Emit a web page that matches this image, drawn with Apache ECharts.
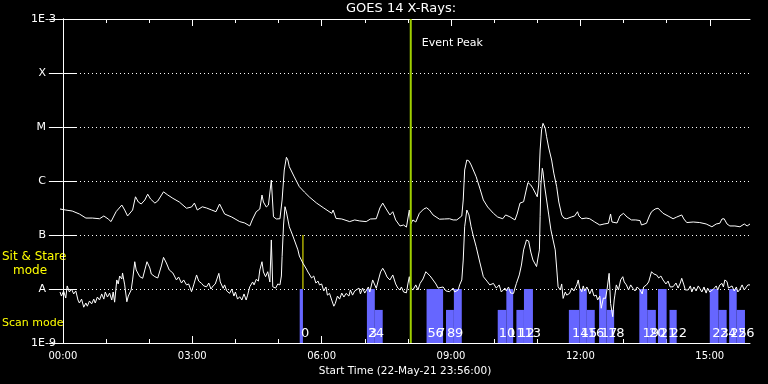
<!DOCTYPE html>
<html><head><meta charset="utf-8">
<script src="https://cdn.jsdelivr.net/npm/echarts@6/dist/echarts.min.js"></script>
<style>html,body{margin:0;padding:0;background:#000}#c{width:768px;height:384px}</style>
</head><body><div id="c"></div>
<script>
// time in minutes after 00:00 (axis starts 23:56)
const xMin = -4, xMax = 956;
const majorTicks = [0, 180, 360, 540, 720, 900];
const minorTicks = [60, 120, 240, 300, 420, 480, 600, 660, 780, 840];
const classNames = {'-3': '1E-3', '-4': 'X', '-5': 'M', '-6': 'C', '-7': 'B', '-8': 'A', '-9': '1E-9'};
const eventPeak = 484;
const stareMarker = [334, 1e-8, 1e-7];

// 1-8 A channel
const longXray = [
[-4,3.03e-7],[4,2.9e-7],[13,2.78e-7],[23,2.45e-7],[32,2.06e-7],[41,2.06e-7],[51,2.0e-7],[57,2.25e-7],[63,1.98e-7],[67,1.77e-7],
[74,2.7e-7],[82,3.59e-7],[86,2.9e-7],[90,2.25e-7],[97,2.9e-7],[101,5.1e-7],[105,4.08e-7],[109,3.75e-7],[114,4.45e-7],[118,5.7e-7],
[122,4.64e-7],[128,3.9e-7],[132,4.26e-7],[140,6.3e-7],[146,5.5e-7],[153,4.78e-7],[162,4.08e-7],[172,3.13e-7],[179,3.3e-7],[183,3.9e-7],
[187,2.9e-7],[194,3.33e-7],[200,3.16e-7],[207,2.9e-7],[213,2.7e-7],[218,3.75e-7],[225,2.45e-7],[235,2.15e-7],[246,1.77e-7],[253,1.67e-7],
[260,1.47e-7],[264,1.98e-7],[269,2.7e-7],[274,3.03e-7],[277,5.5e-7],[279,4.08e-7],[283,3.3e-7],[286,3.59e-7],[290,1.04e-6],[293,2.17e-7],
[297,1.98e-7],[302,2.0e-7],[305,4.45e-7],[308,1.6e-6],[311,2.75e-6],[313,2.45e-6],[315,1.84e-6],[322,1.19e-6],[329,7.84e-7],[336,6.25e-7],
[343,5.05e-7],[353,3.9e-7],[363,3.16e-7],[374,2.52e-7],[376,2.9e-7],[380,2.03e-7],[388,1.98e-7],[399,1.77e-7],[406,1.9e-7],[413,1.82e-7],
[422,1.77e-7],[428,1.98e-7],[436,2.0e-7],[441,3.16e-7],[445,3.9e-7],[449,3.16e-7],[455,2.35e-7],[459,2.7e-7],[463,1.9e-7],[469,1.47e-7],
[474,1.53e-7],[478,1.4e-7],[482,2.9e-7],[484,1.6e-7],[487,1.9e-7],[491,1.74e-7],[496,2.52e-7],[502,3.03e-7],[506,3.2e-7],[510,2.9e-7],
[515,2.35e-7],[524,1.96e-7],[531,1.98e-7],[538,2.0e-7],[543,1.9e-7],[548,1.9e-7],[555,2.25e-7],[557,4.45e-7],[559,1.6e-6],[562,2.45e-6],
[565,2.35e-6],[568,1.98e-6],[575,1.2e-6],[580,7.4e-7],[585,4.45e-7],[591,3.3e-7],[599,2.52e-7],[605,2.15e-7],[612,2.0e-7],[616,2.35e-7],
[622,2.17e-7],[629,1.9e-7],[632,2.45e-7],[636,3.9e-7],[641,4.13e-7],[644,6.25e-7],[647,9.35e-7],[651,8.43e-7],[654,7.3e-7],[660,5.1e-7],
[662,8.43e-7],[664,3.75e-6],[666,8.8e-6],[668,1.17e-5],[671,9.6e-6],[673,6.6e-6],[676,4.08e-6],[680,2.45e-6],[683,1.4e-6],[687,7.84e-7],
[690,4.08e-7],[694,2.35e-7],[697,2.06e-7],[701,2.0e-7],[708,2.17e-7],[712,2.25e-7],[716,2.7e-7],[718,2.25e-7],[722,2.0e-7],[728,2.06e-7],
[733,2.0e-7],[740,1.74e-7],[747,1.53e-7],[753,1.6e-7],[759,1.65e-7],[762,2.45e-7],[764,1.74e-7],[766,1.6e-7],[771,1.67e-7],[775,2.25e-7],
[780,2.52e-7],[785,2.15e-7],[791,1.9e-7],[797,1.9e-7],[803,1.85e-7],[805,1.53e-7],[812,1.65e-7],[816,2.25e-7],[819,2.7e-7],[824,3.03e-7],
[828,3.13e-7],[832,2.78e-7],[835,2.52e-7],[842,2.25e-7],[849,2.0e-7],[854,2.15e-7],[861,2.35e-7],[864,1.98e-7],[868,1.7e-7],[877,1.74e-7],
[886,1.7e-7],[895,1.6e-7],[903,1.42e-7],[909,1.6e-7],[914,1.65e-7],[917,1.98e-7],[920,2.0e-7],[924,1.6e-7],[928,1.47e-7],[935,1.47e-7],
[942,1.42e-7],[948,1.6e-7],[952,1.47e-7],[956,1.6e-7]
];

// 0.5-4 A channel
const shortXray = [
[-4,8.8e-9],[-2,7.4e-9],[1,9.2e-9],[4,6.8e-9],[6,1.14e-8],[9,8.8e-9],[12,1.0e-8],[15,8.1e-9],[18,9.2e-9],[21,6.25e-9],
[23,5.5e-9],[26,6.5e-9],[29,4.6e-9],[32,5.5e-9],[34,4.8e-9],[37,6e-9],[40,5.3e-9],[43,6.5e-9],[45,5.5e-9],[48,7.1e-9],
[51,6.25e-9],[54,8.1e-9],[57,6.5e-9],[59,8.8e-9],[62,7.1e-9],[65,8.4e-9],[68,6.25e-9],[70,8.8e-9],[72,5.7e-9],[75,1.47e-8],
[77,1.24e-8],[79,1.74e-8],[82,1.53e-8],[83,1.98e-8],[86,1.19e-8],[89,5.8e-9],[91,7.4e-9],[95,9.6e-9],[97,1.47e-8],[100,3.2e-8],
[102,2.25e-8],[107,1.69e-8],[111,1.58e-8],[114,2.25e-8],[117,3.2e-8],[121,2.45e-8],[123,1.9e-8],[128,1.69e-8],[132,1.6e-8],[134,1.69e-8],
[137,2.67e-8],[140,3.86e-8],[144,3.03e-8],[148,2.25e-8],[153,1.98e-8],[158,1.47e-8],[161,1.67e-8],[165,1.29e-8],[168,1.47e-8],[172,1.19e-8],
[175,1.24e-8],[179,8.9e-9],[182,1.19e-8],[186,1.82e-8],[189,1.4e-8],[193,1.27e-8],[196,1.14e-8],[200,1.1e-8],[203,1.29e-8],[206,1.0e-8],
[209,1.14e-8],[212,1.24e-8],[217,1.95e-8],[219,1.35e-8],[223,1.03e-8],[225,1.19e-8],[228,9.2e-9],[232,8.3e-9],[235,1e-8],[238,7.4e-9],
[240,8.8e-9],[243,6.5e-9],[246,7.2e-9],[249,6.25e-9],[252,8.1e-9],[255,6.25e-9],[257,7.7e-9],[260,1.1e-8],[262,1.1e-8],[264,1.35e-8],
[266,1.19e-8],[269,1.51e-8],[272,1.4e-8],[274,2.25e-8],[277,3.2e-8],[279,2.07e-8],[282,1.69e-8],[285,2.09e-8],[288,1.35e-8],[290,8.1e-8],
[292,1.1e-8],[296,1.04e-8],[299,1.24e-8],[302,1.19e-8],[304,1.74e-8],[305,4.0e-8],[307,1.53e-7],[309,3.34e-7],[311,2.67e-7],[315,1.42e-7],
[319,1.04e-7],[322,8.1e-8],[327,5.3e-8],[329,4.08e-8],[334,3.0e-8],[338,2.45e-8],[341,2.06e-8],[343,1.96e-8],[346,1.6e-8],[349,1.74e-8],
[352,1.29e-8],[355,1.4e-8],[357,1.19e-8],[360,1.24e-8],[363,9.2e-9],[366,1.09e-8],[368,7.7e-9],[371,8.3e-9],[374,6.25e-9],[377,4.8e-9],
[379,5.4e-9],[382,7.4e-9],[385,6.5e-9],[388,8.4e-9],[391,7.1e-9],[394,8.3e-9],[398,7.4e-9],[400,9.6e-9],[403,7.7e-9],[406,9.2e-9],
[408,8.9e-9],[412,1.04e-8],[414,8.1e-9],[417,1.04e-8],[420,8.4e-9],[422,8.3e-9],[425,1.09e-8],[427,8.8e-9],[431,1.47e-8],[436,1.03e-8],
[439,1.47e-8],[442,2.07e-8],[445,2.42e-8],[448,2.07e-8],[451,1.67e-8],[455,1.47e-8],[459,1.82e-8],[463,1.24e-8],[466,1.04e-8],[469,9.6e-9],
[471,1.09e-8],[474,8.8e-9],[478,8.5e-9],[480,1.24e-8],[482,1.69e-8],[484,1.04e-8],[487,9.6e-9],[491,1.19e-8],[494,9.6e-9],[497,1.27e-8],
[501,1.53e-8],[505,2.09e-8],[508,1.9e-8],[511,1.74e-8],[515,1.47e-8],[519,1.24e-8],[522,1.04e-8],[524,9.6e-9],[529,1.09e-8],[533,9.2e-9],
[538,8.9e-9],[543,1.04e-8],[545,8.8e-9],[550,9.6e-9],[552,1.19e-8],[555,1.47e-8],[557,3.44e-8],[559,1.42e-7],[562,2.9e-7],[565,2.35e-7],
[568,1.42e-7],[571,9.6e-8],[575,6.07e-8],[580,3.16e-8],[585,1.69e-8],[590,1.4e-8],[594,1.19e-8],[599,1.27e-8],[603,1.04e-8],[607,1.19e-8],
[610,8.8e-9],[612,8.3e-9],[615,1.04e-8],[617,9.2e-9],[620,1.09e-8],[623,8.4e-9],[627,8.3e-9],[629,1.04e-8],[631,1.27e-8],[635,1.82e-8],
[638,2.78e-8],[641,5.3e-8],[645,8.1e-8],[648,7.74e-8],[651,4.84e-8],[654,3.44e-8],[659,2.6e-8],[661,3.75e-8],[663,5.3e-8],[664,2.18e-7],
[665,8.43e-7],[667,1.72e-6],[668,1.47e-6],[670,8.43e-7],[673,4.45e-7],[676,2.35e-7],[679,1.24e-7],[682,8.1e-8],[685,5.3e-8],[687,2.45e-8],
[689,1.1e-8],[692,9.6e-9],[694,1.24e-8],[696,6.7e-9],[699,8.8e-9],[701,7.7e-9],[705,8.3e-9],[708,1.04e-8],[711,9.2e-9],[715,1.19e-8],
[717,1.47e-8],[719,1.04e-8],[722,8.9e-9],[724,1.14e-8],[726,9.2e-9],[729,1.09e-8],[731,9.6e-9],[733,8.1e-9],[736,1e-8],[739,7.4e-9],
[742,7.7e-9],[744,6.25e-9],[747,7.4e-9],[749,4.4e-9],[752,6.8e-9],[755,6.7e-9],[757,9.6e-9],[760,1.95e-8],[762,5.4e-9],[765,3.07e-9],
[767,6.25e-9],[768,7.7e-9],[770,1.19e-8],[773,9.6e-9],[776,1.47e-8],[779,1.69e-8],[781,1.35e-8],[784,1.19e-8],[787,9.6e-9],[790,1.19e-8],
[793,1.03e-8],[796,9.2e-9],[799,1.09e-8],[803,9.6e-9],[806,8.1e-9],[808,1.09e-8],[812,1.19e-8],[815,1.35e-8],[819,2.09e-8],[822,1.9e-8],
[826,1.82e-8],[829,1.6e-8],[832,1.74e-8],[835,1.47e-8],[839,1.24e-8],[842,1.4e-8],[845,1.09e-8],[849,1.1e-8],[853,1.29e-8],[856,1.04e-8],
[859,1.29e-8],[861,1.58e-8],[864,1.19e-8],[866,9.6e-9],[870,9.6e-9],[873,1.14e-8],[875,8.8e-9],[878,1.09e-8],[881,9.2e-9],[884,1.14e-8],
[886,1.03e-8],[889,8.8e-9],[892,1.09e-8],[895,8.4e-9],[897,1.04e-8],[900,8.8e-9],[905,9.9e-9],[909,1.14e-8],[911,9.6e-9],[914,1.19e-8],
[917,1.27e-8],[919,1.09e-8],[921,1.47e-8],[924,1.37e-8],[926,1.04e-8],[928,9.6e-9],[931,1.14e-8],[934,9.2e-9],[937,1.09e-8],[939,8.8e-9],
[942,9.9e-9],[945,1.19e-8],[948,9.6e-9],[951,1.09e-8],[953,1.19e-8],[956,1.19e-8]
];

// scan-mode bars: start, end (minutes), top level
const scanStart = [329.5, 423, 434, 506, 533, 544, 605, 617, 631, 641.5, 704, 718.5, 729, 746, 756.5, 802, 813, 828, 844, 900, 912, 927, 937.5];
const scanEnd   = [334, 434, 445, 529, 544, 555, 617, 626.5, 641.5, 654, 718.5, 729, 740, 756.5, 767, 813, 825, 840, 854, 912, 923.5, 937.5, 949];
const scanTop   = [1e-8, 1e-8, 4.1e-9, 1e-8, 4.1e-9, 1e-8, 4.1e-9, 1e-8, 4.1e-9, 1e-8, 4.1e-9, 1e-8, 4.1e-9, 1e-8, 4.1e-9, 1e-8, 4.1e-9, 1e-8, 4.1e-9, 1e-8, 4.1e-9, 1e-8, 4.1e-9];
const scanBase = 1e-9;

// scan numbers
const scanLabelTime = [330, 423, 424, 434, 506, 517, 519, 533, 544, 605, 618, 632, 641, 707, 719, 729, 747, 757, 805, 814, 829, 844, 902, 913, 927, 938];
const scanLabelText = ['0','2','3','4','5','6','7','8','9','10','11','12','13','14','15','16','17','18','19','20','21','22','23','24','25','26'];
const scanLabelLevel = 1.5e-9;

const FONT = '"DejaVu Sans", sans-serif';
const fmtTime = v => { const h = Math.round(v / 60); return (h < 10 ? '0' : '') + h + ':00'; };

const chart = echarts.init(document.getElementById('c'), null, {renderer: 'canvas'});
const white = '#ffffff';

const option = {
  backgroundColor: '#000',
  animation: false,
  textStyle: {fontFamily: FONT},
  grid: {left: 60, top: 19, width: 690, height: 324},
  xAxis: [
    {type: 'value', min: xMin, max: xMax, position: 'bottom',
     axisLine: {show: true, lineStyle: {color: white, width: 1}},
     axisTick: {show: true, inside: true, length: 7, customValues: majorTicks, lineStyle: {color: white}},
     axisLabel: {show: true, customValues: majorTicks, formatter: fmtTime, color: white, fontSize: 10, margin: 8, fontFamily: FONT},
     splitLine: {show: false},
     name: 'Start Time (22-May-21 23:56:00)', nameLocation: 'middle', nameGap: 19,
     nameTextStyle: {color: white, fontSize: 10.5, fontFamily: FONT}},
    {type: 'value', min: xMin, max: xMax, position: 'bottom',
     axisLine: {show: false},
     axisTick: {show: true, inside: true, length: 4, customValues: minorTicks, lineStyle: {color: white}},
     axisLabel: {show: false}, splitLine: {show: false}},
    {type: 'value', min: xMin, max: xMax, position: 'top',
     axisLine: {show: true, lineStyle: {color: white, width: 1}},
     axisTick: {show: true, inside: true, length: 7, customValues: majorTicks, lineStyle: {color: white}},
     axisLabel: {show: false}, splitLine: {show: false}},
    {type: 'value', min: xMin, max: xMax, position: 'top',
     axisLine: {show: false},
     axisTick: {show: true, inside: true, length: 4, customValues: minorTicks, lineStyle: {color: white}},
     axisLabel: {show: false}, splitLine: {show: false}}
  ],
  yAxis: [
    {type: 'log', logBase: 10, min: 1e-9, max: 1e-3, position: 'left',
     axisLine: {show: true, lineStyle: {color: white, width: 1}},
     axisTick: {show: true, inside: true, length: 14, lineStyle: {color: white}},
     axisLabel: {show: true, color: white, fontSize: 11, margin: 4, fontFamily: FONT,
       formatter: v => {
         const e = Math.round(Math.log10(v));
         const s = classNames[String(e)] || '';
         return s.length === 1 ? '{l|' + s + '}' : s;
       },
       rich: {l: {color: white, fontSize: 11, fontFamily: FONT, padding: [0, 10, 0, 0]}}},
     splitLine: {show: true, lineStyle: {color: white, width: 1, type: [1, 3]}}},
    {type: 'log', logBase: 10, min: 1e-9, max: 1e-3, position: 'right',
     axisLine: {show: true, lineStyle: {color: white, width: 1}},
     axisTick: {show: true, inside: true, length: 14, lineStyle: {color: white}},
     axisLabel: {show: false}, splitLine: {show: false}}
  ],
  graphic: [
    {type: 'text', left: 346, top: 2, style: {text: 'GOES 14 X-Rays:', fill: white, font: '13px ' + FONT}},
    {type: 'text', left: 2, top: 251, style: {text: 'Sit & Stare', fill: '#ffff00', font: '12px ' + FONT}},
    {type: 'text', left: 13, top: 265, style: {text: 'mode', fill: '#ffff00', font: '12px ' + FONT}},
    {type: 'text', left: 2, top: 318, style: {text: 'Scan mode', fill: '#ffff00', font: '11px ' + FONT}}
  ],
  series: [
    {type: 'custom', name: 'scan', xAxisIndex: 0, yAxisIndex: 0, silent: true, z: 1,
     data: scanStart.map((s, i) => [s, scanEnd[i], scanTop[i], scanBase]),
     encode: {x: [0, 1], y: [2, 3]},
     renderItem: (params, api) => {
       const p0 = api.coord([api.value(0), api.value(2)]);
       const p1 = api.coord([api.value(1), api.value(3)]);
       return {type: 'rect', shape: {x: p0[0], y: p0[1], width: p1[0] - p0[0], height: p1[1] - p0[1]},
               style: {fill: '#6666ff'}};
     }},
    {type: 'custom', name: 'stare', silent: true, z: 2,
     data: [stareMarker], encode: {x: 0, y: [1, 2]},
     renderItem: (params, api) => {
       const a = api.coord([api.value(0), api.value(1)]);
       const b = api.coord([api.value(0), api.value(2)]);
       return {type: 'line', shape: {x1: a[0], y1: a[1], x2: b[0], y2: b[1]}, style: {stroke: '#ffff00', lineWidth: 1}};
     }},
    {type: 'line', name: 'long', data: longXray, showSymbol: false, symbol: 'none', z: 3, silent: true,
     lineStyle: {color: white, width: 1}},
    {type: 'line', name: 'short', data: shortXray, showSymbol: false, symbol: 'none', z: 3, silent: true,
     lineStyle: {color: white, width: 1}},
    {type: 'custom', name: 'scanLabels', silent: true, z: 5,
     data: scanLabelTime.map(t => [t, scanLabelLevel]), encode: {x: 0, y: 1},
     renderItem: (params, api) => {
       const p = api.coord([api.value(0), api.value(1)]);
       return {type: 'text', x: p[0] + 1, y: p[1],
               style: {text: scanLabelText[params.dataIndex], fill: white, font: '13px ' + FONT, align: 'left', verticalAlign: 'middle'}};
     }},
    {type: 'custom', name: 'eventPeak', silent: true, z: 6,
     data: [[eventPeak, 1e-3, 1e-9]], encode: {x: 0, y: [1, 2]},
     renderItem: (params, api) => {
       const a = api.coord([api.value(0), api.value(1)]);
       const b = api.coord([api.value(0), api.value(2)]);
       return {type: 'group', children: [
         {type: 'line', shape: {x1: a[0], y1: a[1], x2: b[0], y2: b[1]}, style: {stroke: '#9fcf00', lineWidth: 2}},
         {type: 'text', x: a[0] + 11, y: a[1] + 24,
          style: {text: 'Event Peak', fill: white, font: '11px ' + FONT, align: 'left', verticalAlign: 'middle'}}
       ]};
     }}
  ]
};
chart.setOption(option);
</script>
</body></html>
